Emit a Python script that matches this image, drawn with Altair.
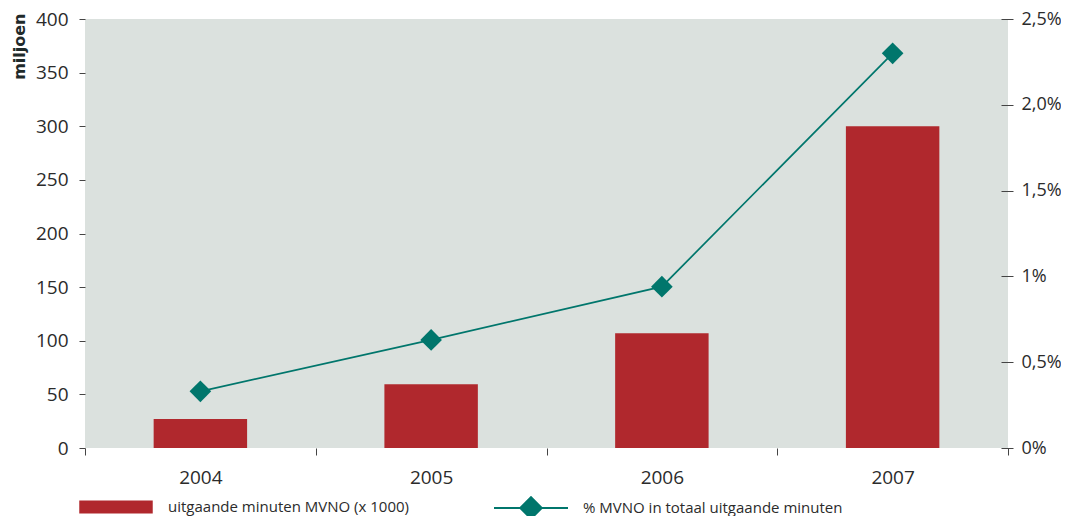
import altair as alt
import pandas as pd

years = ["2004", "2005", "2006", "2007"]
minutes = [27, 59.5, 107, 300]
pct = [0.33, 0.63, 0.94, 2.30]
bar_label = "uitgaande minuten MVNO (x 1000)"
line_label = "% MVNO in totaal uitgaande minuten"

df = pd.DataFrame({"jaar": years, "minuten": minutes, "pct": pct,
                   "s1": bar_label, "s2": line_label})

RED = "#b0282d"
TEAL = "#00766c"
BG = "#dbe1de"
TXT = "#2b2b2b"
FONT = "Open Sans"
FS = 19

x = alt.X("jaar:N", title=None,
          scale=alt.Scale(paddingInner=0, paddingOuter=0),
          axis=alt.Axis(labelAngle=0, tickBand="extent", domain=False, tickSize=7,
                        tickColor="#444", labelPadding=13, labelFontSize=FS,
                        labelColor=TXT, labelFont=FONT, grid=False))

bars = alt.Chart(df).mark_bar(width=alt.RelativeBandSize(0.405)).encode(
    x=x,
    y=alt.Y("minuten:Q", scale=alt.Scale(domain=[0, 400], nice=False),
            axis=alt.Axis(values=[0, 50, 100, 150, 200, 250, 300, 350, 400],
                          title="miljoen", titleFont="DejaVu Sans", titleFontSize=16,
                          titleFontWeight="bold", titleColor="#1f2a2a",
                          titleAngle=-90, titleAlign="right", titleBaseline="alphabetic",
                          titleX=-61, titleY=-6,
                          domain=False, grid=False, tickSize=6, tickColor="#444",
                          labelPadding=11, labelFontSize=FS, labelColor=TXT,
                          labelFont=FONT)),
    color=alt.Color("s1:N", scale=alt.Scale(range=[RED]),
                    legend=alt.Legend(orient="none", legendX=-6, legendY=451, title=None,
                                      padding=0, labelLimit=500,
                                      symbolType="M-1,-0.18H1V0.18H-1Z",
                                      symbolSize=5400, symbolStrokeWidth=0,
                                      symbolOpacity=1, labelOffset=15,
                                      labelFont=FONT, labelFontSize=15,
                                      labelColor=TXT)),
)

line = alt.Chart(df).mark_line(strokeWidth=1.7, color=TEAL).encode(
    x=x,
    y=alt.Y("pct:Q", scale=alt.Scale(domain=[0, 2.5], nice=False),
            axis=alt.Axis(orient="right", values=[0, 0.5, 1, 1.5, 2, 2.5],
                          labelExpr="datum.value == 0 ? '0%' : datum.value == 1 ? '1%' : replace(format(datum.value, '.1f'), '.', ',') + '%'",
                          title=None, domain=False, grid=False, offset=-7,
                          tickSize=12, tickColor="#444", labelPadding=8,
                          labelFontSize=18, labelColor=TXT, labelFont=FONT)),
    stroke=alt.Stroke("s2:N", scale=alt.Scale(range=[TEAL]),
                      legend=alt.Legend(orient="none", legendX=408, legendY=451, title=None,
                                        padding=0, labelLimit=500,
                                        symbolType="M-1,0H1M-0.29,0L0,-0.29L0.29,0L0,0.29Z",
                                        symbolSize=5476, symbolStrokeWidth=2,
                                        symbolFillColor=TEAL, symbolOpacity=1,
                                        labelOffset=14, labelFont=FONT,
                                        labelFontSize=15, labelColor=TXT)),
)

points = alt.Chart(df).mark_point(shape="diamond", filled=True, size=470,
                                  color=TEAL, opacity=1).encode(
    x=x,
    y=alt.Y("pct:Q", scale=alt.Scale(domain=[0, 2.5], nice=False), axis=None),
)

chart = alt.layer(bars, line, points).resolve_scale(
    y="independent"
).properties(
    width=923, height=429,
    autosize=alt.AutoSizeParams(type="none"),
    padding={"left": 77, "top": 11, "right": 53, "bottom": 68},
).configure_view(fill=BG, stroke=None)

chart.save("out.html", embed_options={"renderer": "svg", "actions": False})
